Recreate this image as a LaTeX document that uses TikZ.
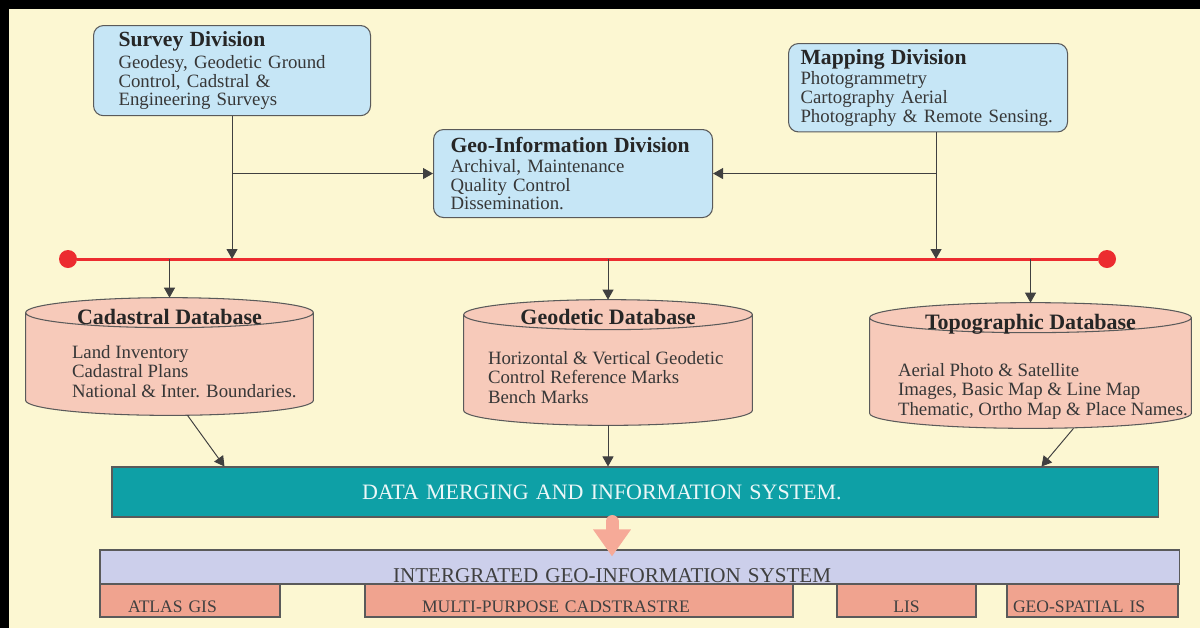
\documentclass[tikz,border=0pt]{standalone}
\usepackage{fontspec}
\setmainfont{Liberation Serif}
\usetikzlibrary{arrows.meta, positioning, calc}
\definecolor{cream}{RGB}{252,247,210}
\definecolor{divblue}{RGB}{198,230,246}
\definecolor{dbpink}{RGB}{247,202,186}
\definecolor{mergeteal}{RGB}{14,160,166}
\definecolor{igislav}{RGB}{204,207,235}
\definecolor{subsalmon}{RGB}{240,163,143}
\definecolor{flowpink}{RGB}{246,170,152}
\definecolor{busred}{RGB}{236,44,48}
\definecolor{inkgray}{RGB}{55,55,55}
\definecolor{edgegray}{RGB}{90,90,90}
\tikzset{every node/.append style={text=inkgray}}

\begin{document}
\begin{tikzpicture}[x=0.2mm, y=-0.2mm,
    div/.style={rectangle, rounded corners=2mm, draw=edgegray, fill=divblue,
        line width=0.6pt, anchor=north west, align=left, minimum height=17.6mm,
        font=\fontsize{10.7}{10.6}\selectfont},
    ttl/.style={inner sep=0pt, text=black!85, font=\fontsize{12.5}{13}\selectfont\bfseries},
    dbnode/.style={rectangle, inner sep=0pt},
    dbline/.style={draw=edgegray, fill=dbpink, line width=0.6pt},
    dbtxt/.style={align=left, inner sep=0pt, anchor=north west,
        font=\fontsize{10.7}{11.3}\selectfont},
    bar/.style={rectangle, draw=edgegray, line width=0.6pt, align=left, inner ysep=0pt},
    sub/.style={rectangle, draw=edgegray, fill=subsalmon, line width=0.6pt,
        minimum height=6.6mm, inner ysep=0pt, text height=14pt, text depth=0.6pt,
        text=black!75, font=\fontsize{10}{12}\selectfont},
    a/.style={-{Triangle[length=2mm, width=2.2mm]}, line width=0.55pt, draw=black!75},
    bus/.style={line width=1.7pt, draw=busred},
    dot/.style={circle, fill=busred, minimum size=3.6mm, inner sep=0pt},
    fat/.style={-{Triangle[length=5.4mm, width=7.2mm]}, line width=2.6mm,
        draw=flowpink, line cap=round}
]
\useasboundingbox (0,0) rectangle (1200,628);
\fill[cream] (0,0) rectangle (1200,628);
\fill[black] (0,0) rectangle (1200,9);
\fill[black] (0,0) rectangle (9,628);

% divisions
\node[div, text width=45.4mm, inner xsep=5mm] (survey) at (93,25)
    {{\fontsize{12.3}{13}\selectfont\bfseries\color{black!85}Survey Division}\\[2pt]
     Geodesy, Geodetic Ground\\Control, Cadstral \&\\Engineering Surveys};
\node[div, text width=51mm, inner xsep=2.4mm] (mapping) at (788,43)
    {{\fontsize{12.3}{13}\selectfont\bfseries\color{black!85}Mapping Division}\\[1pt]
     Photogrammetry\\Cartography Aerial\\Photography \& Remote Sensing.};
\node[div, text width=49mm, inner xsep=3.4mm] (geoinfo) at (433,129)
    {{\fontsize{12.3}{13}\selectfont\bfseries\color{black!85}Geo-Information Division}\\[1pt]
     Archival, Maintenance\\Quality Control\\Dissemination.};

% red bus
\node[dot] (busL) at (68,259) {};
\node[dot] (busR) at (1107,259) {};
\draw[bus] (busL) -- (busR);

\draw[a] (survey) -- (survey |- busL);
\draw[a] (survey |- geoinfo) -- (geoinfo);
\draw[a] ($(mapping.south)+(8,0)$) coordinate (mq) -- (mq |- busL);
\draw[a] (mq |- geoinfo) -- (geoinfo);

% databases
\node[dbnode, minimum width=57.4mm, minimum height=23.4mm] (cad) at (169.5,356.5) {};
\node[dbnode, minimum width=57.6mm, minimum height=25mm] (geo) at (608,362.5) {};
\node[dbnode, minimum width=64.2mm, minimum height=25mm] (topo) at (1030.5,365.5) {};
\foreach \db in {cad,geo,topo}{
  \draw[dbline] let \p1=(\db.north west), \p2=(\db.south east) in
    (\x1,\y1-3mm) -- (\x1,\y2+3mm)
    arc[start angle=180, end angle=360, x radius={0.5*(\x2-\x1)}, y radius=3mm]
    -- (\x2,\y1-3mm)
    arc[start angle=0, end angle=180, x radius={0.5*(\x2-\x1)}, y radius=3mm]
    -- cycle
    (\x1,\y1-3mm)
    arc[start angle=180, end angle=360, x radius={0.5*(\x2-\x1)}, y radius=3mm];
}
\node[ttl, below=2.2mm of cad.north] (cadT) {Cadastral Database};
\node[ttl, below=1.8mm of geo.north] (geoT) {Geodetic Database};
\node[ttl, below=2.2mm of topo.north] (topoT) {Topographic Database};
\node[dbtxt, below right=9.4mm and 9.2mm of cad.north west] (cadB)
    {Land Inventory\\Cadastral Plans\\National \& Inter. Boundaries.};
\node[dbtxt, below right=10.2mm and 4.8mm of geo.north west] (geoB)
    {Horizontal \& Vertical Geodetic\\Control Reference Marks\\Bench Marks};
\node[dbtxt, below right=12mm and 5.6mm of topo.north west] (topoB)
    {Aerial Photo \& Satellite\\Images, Basic Map \& Line Map\\Thematic, Ortho Map \& Place Names.};

\draw[a] (cad |- busL) -- (cad);
\draw[a] (geo |- busL) -- (geo);
\draw[a] (topo |- busL) -- (topo);

% merging and integration
\node[bar, fill=mergeteal, minimum width=209.2mm, minimum height=10mm,
      inner xsep=50mm, text width=109.2mm, text=white!92!mergeteal,
      font=\fontsize{12.5}{14}\selectfont] (merge) at (635,492)
    {DATA MERGING AND INFORMATION SYSTEM.};
\draw[a] ($(cad.south)+(18,0)$) -- ($(merge.north west)+(113,0)$);
\draw[a] (geo) -- (geo |- merge.north);
\draw[a] ($(topo.south)+(43,0)$) -- ($(merge.north west)+(930,0)$);

\node[bar, fill=igislav, minimum width=215.8mm, minimum height=6.8mm,
      inner xsep=58.6mm, text width=98.6mm, text height=17.5pt, text depth=0.4pt,
      text=black!75, font=\fontsize{12}{14}\selectfont] (igis) at (639.5,567)
    {INTERGRATED GEO-INFORMATION SYSTEM};
\draw[fat, shorten >=-1.4mm] ($(merge.south)+(-23,4)$) coordinate (pk) -- (pk |- igis.north);

\node[sub, minimum width=36mm, inner xsep=5.6mm, text width=24.8mm, align=left] (atlas) at (190,600.5) {ATLAS GIS};
\node[sub, minimum width=85.6mm, inner xsep=11.4mm, text width=62.8mm, align=left] (multi) at (579,600.5) {MULTI-PURPOSE CADSTRASTRE};
\node[sub, minimum width=27.8mm] (lis) at (906.5,600.5) {LIS};
\node[sub, minimum width=34.2mm, inner xsep=1.2mm, text width=31.8mm, align=left] (geosp) at (1092.5,600.5) {GEO-SPATIAL IS};
\end{tikzpicture}
\end{document}
